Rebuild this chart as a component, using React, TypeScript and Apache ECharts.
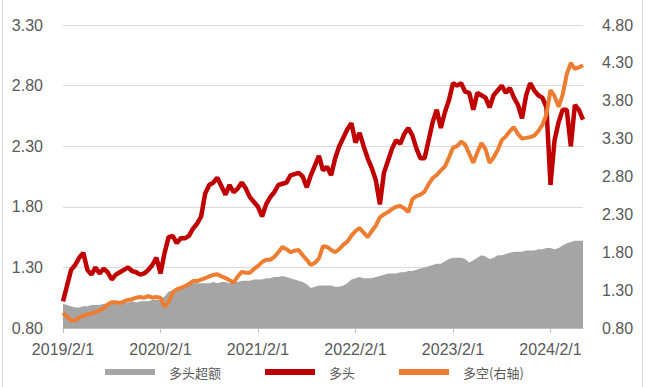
import React, { useEffect, useRef } from "react";
import * as echarts from "echarts";

// Semi-monthly observation dates
const dates: string[] = [
  "2019-02-01", "2019-02-15", "2019-03-01", "2019-03-15", "2019-04-01", "2019-04-15", "2019-05-01", "2019-05-15",
  "2019-06-01", "2019-06-15", "2019-07-01", "2019-07-15", "2019-08-01", "2019-08-15", "2019-09-01", "2019-09-15",
  "2019-10-01", "2019-10-15", "2019-11-01", "2019-11-15", "2019-12-01", "2019-12-15", "2020-01-01", "2020-01-15",
  "2020-02-01", "2020-02-15", "2020-03-01", "2020-03-15", "2020-04-01", "2020-04-15", "2020-05-01", "2020-05-15",
  "2020-06-01", "2020-06-15", "2020-07-01", "2020-07-15", "2020-08-01", "2020-08-15", "2020-09-01", "2020-09-15",
  "2020-10-01", "2020-10-15", "2020-11-01", "2020-11-15", "2020-12-01", "2020-12-15", "2021-01-01", "2021-01-15",
  "2021-02-01", "2021-02-15", "2021-03-01", "2021-03-15", "2021-04-01", "2021-04-15", "2021-05-01", "2021-05-15",
  "2021-06-01", "2021-06-15", "2021-07-01", "2021-07-15", "2021-08-01", "2021-08-15", "2021-09-01", "2021-09-15",
  "2021-10-01", "2021-10-15", "2021-11-01", "2021-11-15", "2021-12-01", "2021-12-15", "2022-01-01", "2022-01-15",
  "2022-02-01", "2022-02-15", "2022-03-01", "2022-03-15", "2022-04-01", "2022-04-15", "2022-05-01", "2022-05-15",
  "2022-06-01", "2022-06-15", "2022-07-01", "2022-07-15", "2022-08-01", "2022-08-15", "2022-09-01", "2022-09-15",
  "2022-10-01", "2022-10-15", "2022-11-01", "2022-11-15", "2022-12-01", "2022-12-15", "2023-01-01", "2023-01-15",
  "2023-02-01", "2023-02-15", "2023-03-01", "2023-03-15", "2023-04-01", "2023-04-15", "2023-05-01", "2023-05-15",
  "2023-06-01", "2023-06-15", "2023-07-01", "2023-07-15", "2023-08-01", "2023-08-15", "2023-09-01", "2023-09-15",
  "2023-10-01", "2023-10-15", "2023-11-01", "2023-11-15", "2023-12-01", "2023-12-15", "2024-01-01", "2024-01-15",
  "2024-02-01", "2024-02-15", "2024-03-01", "2024-03-15", "2024-04-01", "2024-04-15", "2024-05-01", "2024-05-15",
  "2024-06-01",
];

// 多头超额 (left axis, area)
const excessValues: number[] = [
  1.00, 0.99, 0.98, 0.97, 0.97, 0.98, 0.98, 0.99, 0.99, 0.99, 1.00, 1.00, 1.00, 1.01, 1.01, 1.01, 1.01, 1.02, 1.01, 1.02, 1.02, 1.02, 1.03, 1.03,
  1.03, 1.06, 1.10, 1.11, 1.13, 1.14, 1.15, 1.16, 1.17, 1.17, 1.17, 1.17, 1.17, 1.18, 1.17, 1.18, 1.18, 1.17, 1.18, 1.18, 1.19, 1.19, 1.19, 1.20,
  1.20, 1.20, 1.21, 1.21, 1.22, 1.22, 1.23, 1.22, 1.21, 1.20, 1.19, 1.18, 1.16, 1.13, 1.14, 1.15, 1.15, 1.15, 1.15, 1.14, 1.14, 1.15, 1.17, 1.20,
  1.21, 1.22, 1.21, 1.21, 1.21, 1.22, 1.23, 1.24, 1.25, 1.25, 1.25, 1.26, 1.26, 1.27, 1.27, 1.28, 1.29, 1.30, 1.31, 1.32, 1.33, 1.33, 1.35, 1.37,
  1.38, 1.38, 1.38, 1.37, 1.34, 1.36, 1.38, 1.40, 1.39, 1.37, 1.38, 1.40, 1.40, 1.41, 1.42, 1.43, 1.43, 1.43, 1.44, 1.44, 1.44, 1.45, 1.45, 1.46,
  1.46, 1.45, 1.46, 1.48, 1.50, 1.51, 1.52, 1.52, 1.52,
];

// 多头 (left axis)
const longValues: number[] = [
  1.02, 1.15, 1.28, 1.32, 1.38, 1.42, 1.28, 1.24, 1.30, 1.25, 1.29, 1.26, 1.20, 1.24, 1.26, 1.28, 1.30, 1.27, 1.26, 1.24, 1.25, 1.28, 1.32, 1.38,
  1.25, 1.42, 1.55, 1.56, 1.50, 1.54, 1.54, 1.56, 1.62, 1.66, 1.72, 1.91, 1.98, 2.00, 2.04, 1.97, 1.90, 1.98, 1.92, 1.95, 2.00, 1.95, 1.88, 1.84,
  1.80, 1.72, 1.82, 1.88, 1.92, 1.98, 1.99, 2.00, 2.06, 2.07, 2.08, 2.05, 1.96, 2.06, 2.14, 2.22, 2.10, 2.13, 2.06, 2.20, 2.30, 2.37, 2.44, 2.49,
  2.33, 2.41, 2.30, 2.20, 2.12, 2.02, 1.82, 2.08, 2.18, 2.28, 2.35, 2.32, 2.40, 2.45, 2.39, 2.28, 2.20, 2.20, 2.35, 2.50, 2.60, 2.45, 2.58, 2.68,
  2.82, 2.80, 2.82, 2.75, 2.74, 2.60, 2.74, 2.72, 2.70, 2.62, 2.72, 2.76, 2.80, 2.74, 2.78, 2.70, 2.64, 2.53, 2.72, 2.82, 2.76, 2.72, 2.70, 2.62,
  1.98, 2.35, 2.50, 2.60, 2.60, 2.30, 2.64, 2.60, 2.52,
];

// 多空 (right axis)
const longShortValues: number[] = [
  1.00, 0.95, 0.90, 0.90, 0.94, 0.96, 0.98, 0.99, 1.01, 1.03, 1.06, 1.11, 1.14, 1.14, 1.13, 1.15, 1.17, 1.18, 1.20, 1.21, 1.20, 1.22, 1.20, 1.21,
  1.20, 1.08, 1.14, 1.27, 1.31, 1.33, 1.35, 1.38, 1.42, 1.42, 1.44, 1.46, 1.48, 1.50, 1.51, 1.48, 1.46, 1.43, 1.40, 1.48, 1.54, 1.53, 1.53, 1.58,
  1.62, 1.67, 1.70, 1.70, 1.74, 1.80, 1.87, 1.84, 1.80, 1.82, 1.83, 1.76, 1.70, 1.63, 1.66, 1.72, 1.88, 1.87, 1.83, 1.80, 1.84, 1.90, 1.94, 2.02,
  2.08, 2.12, 2.06, 2.00, 2.08, 2.15, 2.26, 2.30, 2.33, 2.37, 2.40, 2.41, 2.38, 2.33, 2.50, 2.54, 2.56, 2.60, 2.70, 2.78, 2.82, 2.88, 2.93, 3.05,
  3.18, 3.20, 3.26, 3.22, 3.10, 2.98, 3.12, 3.24, 3.16, 2.98, 3.05, 3.15, 3.28, 3.33, 3.40, 3.45, 3.36, 3.30, 3.31, 3.32, 3.34, 3.40, 3.48, 3.62,
  3.94, 3.86, 3.72, 3.88, 4.15, 4.30, 4.22, 4.24, 4.27,
];

const leftTicks: number[] = [0.8, 1.3, 1.8, 2.3, 2.8, 3.3];
const rightTicks: number[] = [0.8, 1.3, 1.8, 2.3, 2.8, 3.3, 3.8, 4.3, 4.8];

const seriesNames = ["多头超额", "多头", "多空(右轴)"];

const FONT = "'Liberation Sans', Arial, sans-serif";
const CJK = "'Noto Sans CJK SC', 'Liberation Sans', sans-serif";

export default function App() {
  const ref = useRef<HTMLDivElement>(null);

  useEffect(() => {
    if (!ref.current) return;
    const chart = echarts.init(ref.current, null, { renderer: "svg" });
    const isFeb1 = (_i: number, v: string) => String(v).endsWith("-02-01");
    chart.setOption({
      animation: false,
      backgroundColor: "#ffffff",
      grid: { left: 63, right: 62, top: 25, bottom: 59, containLabel: false },
      graphic: [
        { type: "line", shape: { x1: 2.5, y1: 0, x2: 2.5, y2: 387 }, style: { stroke: "#d9d9d9", lineWidth: 1 } },
        { type: "line", shape: { x1: 642.5, y1: 0, x2: 642.5, y2: 387 }, style: { stroke: "#d9d9d9", lineWidth: 1 } },
      ],
      legend: {
        data: seriesNames,
        left: 105,
        top: 364,
        padding: 0,
        icon: "rect",
        itemWidth: 50,
        itemHeight: 6,
        itemGap: 44,
        textStyle: { color: "#595959", fontSize: 13, fontFamily: CJK, padding: [0, 0, 0, 9], lineHeight: 16 },
      },
      xAxis: {
        type: "category",
        data: dates,
        boundaryGap: false,
        axisLine: { show: true, lineStyle: { color: "#bfbfbf", width: 1 } },
        axisTick: { show: true, interval: isFeb1, length: 5, lineStyle: { color: "#bfbfbf" } },
        axisLabel: {
          interval: isFeb1,
          margin: 13,
          color: "#595959",
          fontSize: 16,
          fontFamily: FONT,
          formatter: (v: string) => {
            const [y, m, d] = v.split("-");
            return `${y}/${parseInt(m, 10)}/${parseInt(d, 10)}`;
          },
        },
        splitLine: { show: false },
      },
      yAxis: [
        {
          type: "value",
          min: 0.8,
          max: 3.3,
          position: "left",
          axisLine: { show: false },
          axisTick: { show: false, customValues: leftTicks },
          axisLabel: {
            customValues: leftTicks,
            formatter: (v: number) => v.toFixed(2),
            color: "#595959",
            fontSize: 16,
            fontFamily: FONT,
            margin: 20,
          },
          splitLine: { show: true, lineStyle: { color: "#d9d9d9", width: 1 } },
        },
        {
          type: "value",
          min: 0.8,
          max: 4.8,
          position: "right",
          axisLine: { show: false },
          axisTick: { show: false, customValues: rightTicks },
          axisLabel: {
            customValues: rightTicks,
            formatter: (v: number) => v.toFixed(2),
            color: "#595959",
            fontSize: 16,
            fontFamily: FONT,
            margin: 19,
          },
          splitLine: { show: false },
        },
      ],
      series: [
        {
          name: seriesNames[0],
          type: "line",
          yAxisIndex: 0,
          data: excessValues,
          showSymbol: false,
          symbol: "none",
          itemStyle: { color: "#a5a5a5" },
          lineStyle: { width: 0, color: "#a5a5a5" },
          areaStyle: { color: "#a5a5a5", opacity: 1, origin: "start" },
        },
        {
          name: seriesNames[1],
          type: "line",
          yAxisIndex: 0,
          data: longValues,
          showSymbol: false,
          symbol: "none",
          itemStyle: { color: "#c00000" },
          lineStyle: { width: 4.5, color: "#c00000" },
        },
        {
          name: seriesNames[2],
          type: "line",
          yAxisIndex: 1,
          data: longShortValues,
          showSymbol: false,
          symbol: "none",
          itemStyle: { color: "#ed7d31" },
          lineStyle: { width: 4, color: "#ed7d31" },
        },
      ],
    });
    return () => chart.dispose();
  }, []);

  return (
    <div
      ref={ref}
      style={{ position: "fixed", left: 0, top: 0, width: 645, height: 387, background: "#ffffff" }}
    />
  );
}
